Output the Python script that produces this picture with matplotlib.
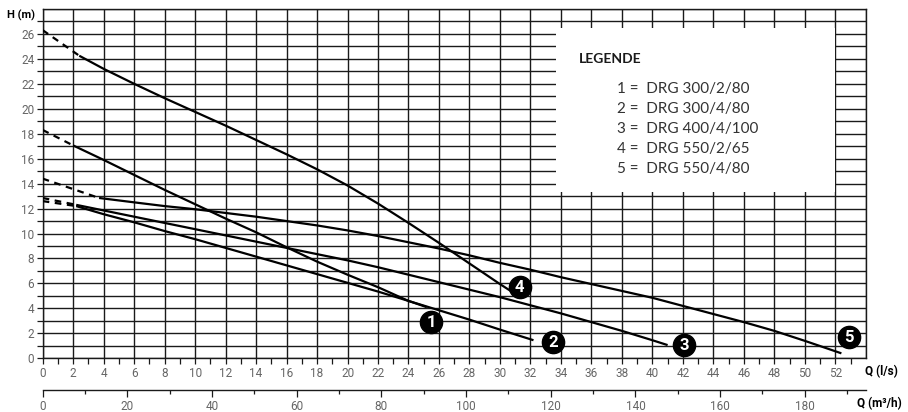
import matplotlib.pyplot as plt

plt.rcParams['font.family'] = ['Roboto', 'DejaVu Sans']

# pump curves, Q in l/s, H in m (solid part)
q1 = [2.0, 4, 6, 8, 10, 12, 14, 16, 18, 20, 22, 24, 25.2]
h1 = [17.06, 15.9, 14.7, 13.5, 12.35, 11.2, 10.1, 8.9, 7.75, 6.7, 5.7, 4.6, 4.1]
q2 = [2.2, 4, 6, 8, 10, 12, 14, 16, 18, 20, 22, 24, 26, 28, 30, 32.2]
h2 = [12.2, 11.55, 10.9, 10.2, 9.55, 8.85, 8.15, 7.45, 6.75, 6.05, 5.35, 4.6, 3.85, 3.1, 2.3, 1.45]
q3 = [2.2, 4, 6, 8, 10, 12, 14, 16, 18, 20, 22, 24, 26, 28, 30, 32, 34, 36, 38, 40, 41.0]
h3 = [12.3, 11.85, 11.35, 10.85, 10.35, 9.85, 9.35, 8.85, 8.35, 7.85, 7.3, 6.7, 6.1, 5.5,
      4.9, 4.25, 3.6, 2.9, 2.2, 1.45, 1.06]
q4 = [2.4, 4, 6, 8, 10, 12, 14, 16, 18, 20, 22, 24, 26, 28, 30, 30.7]
h4 = [24.25, 23.2, 22.0, 20.85, 19.75, 18.65, 17.5, 16.35, 15.15, 13.85, 12.4, 10.85, 9.25,
      7.6, 5.95, 5.4]
q5 = [3.7, 6, 8, 10, 12, 14, 16, 18, 20, 22, 24, 26, 28, 30, 32, 34, 36, 38, 40, 42, 44,
      46, 48, 50, 52.4]
h5 = [12.85, 12.5, 12.2, 11.95, 11.65, 11.35, 11.0, 10.65, 10.25, 9.8, 9.3, 8.8, 8.25, 7.65,
      7.1, 6.5, 5.95, 5.4, 4.85, 4.2, 3.55, 2.9, 2.2, 1.4, 0.4]
# shut-off heads (dashed extrapolation to Q = 0)
h0 = [18.3, 12.6, 12.85, 26.3, 14.4]

labels = ['1', '2', '3', '4', '5']
label_q = [25.5, 33.5, 42.1, 31.3, 52.9]
label_h = [2.9, 1.33, 1.1, 5.7, 1.7]

legend_lines = ['1 =  DRG 300/2/80', '2 =  DRG 300/4/80', '3 =  DRG 400/4/100',
                '4 =  DRG 550/2/65', '5 =  DRG 550/4/80']

fig = plt.figure(figsize=(9.08, 4.12), dpi=100)
ax = fig.add_axes([0.047, 0.1303, 0.9065, 0.848])
ax.set_xlim(0, 54)
ax.set_ylim(0, 28)

# grid
for x in range(0, 55, 2):
    ax.axvline(x, color='#1a1a1a', lw=1.0, zorder=1)
for y in range(0, 29):
    ax.axhline(y, color='#1a1a1a', lw=1.0, zorder=1)

# legend box (white, covers the grid)
ax.add_patch(plt.Rectangle((33.7, 13.3), 18.3, 13.2, facecolor='white',
                           edgecolor='none', zorder=2))
ax.text(35.2, 23.95, 'LEGENDE', fontsize=10, fontweight='bold', family=['Lato', 'DejaVu Sans'],
        color='#1a1a1a', va='center', ha='left', zorder=3)
for i, s in enumerate(legend_lines):
    ax.text(37.7, 21.6 - 1.6 * i, s, fontsize=11, family=['Lato', 'DejaVu Sans'],
            color='#333333', va='center', ha='left', zorder=3)

curves = [(q1, h1), (q2, h2), (q3, h3), (q4, h4), (q5, h5)]
for (q, h), s0 in zip(curves, h0):
    ax.plot(q, h, color='black', lw=1.6, zorder=4, solid_capstyle='butt')
    ax.plot([0, q[0]], [s0, h[0]], color='black', lw=1.6, ls=(0, (3, 2.5)), zorder=4)

for lab, x, y in zip(labels, label_q, label_h):
    ax.plot(x, y, 'o', ms=16, color='black', zorder=5)
    ax.text(x, y - 0.05, lab, color='white', fontsize=12, fontweight='bold',
            ha='center', va='center', zorder=6)

# axes / ticks
for sp in ax.spines.values():
    sp.set_color('#1a1a1a')
    sp.set_linewidth(1.0)
ax.set_xticks(range(0, 54, 2))
ax.set_xticks(range(0, 54), minor=True)
ax.set_yticks(range(0, 28, 2))
ax.set_yticks(range(0, 28), minor=True)
ax.tick_params(axis='both', which='both', length=4, width=0.9, color='#1a1a1a',
               labelsize=8.5, labelcolor='#666666', pad=2)

ax2 = ax.secondary_xaxis(-0.0907, functions=(lambda x: x * 3.6, lambda x: x / 3.6))
ax2.set_xticks(range(0, 200, 20))
ax2.set_xticks(range(0, 200, 10), minor=True)
ax2.tick_params(axis='x', which='major', length=5, width=0.9, color='#1a1a1a',
                labelsize=8.5, labelcolor='#666666', pad=2)
ax2.tick_params(axis='x', which='minor', length=3, width=0.9, color='#1a1a1a')
ax2.spines['bottom'].set_linewidth(1.0)
ax2.spines['bottom'].set_color('#1a1a1a')

fig.text(21 / 908, 1 - 15 / 412, 'H (m)', fontsize=8, fontweight='bold', ha='center', va='center')
fig.text(881 / 908, 1 - 372 / 412, 'Q (l/s)', fontsize=8.5, fontweight='bold', ha='center', va='center')
fig.text(879 / 908, 1 - 404 / 412, 'Q (m³/h)', fontsize=8.5, fontweight='bold', ha='center', va='center')

fig.savefig('out.png', dpi=100)
